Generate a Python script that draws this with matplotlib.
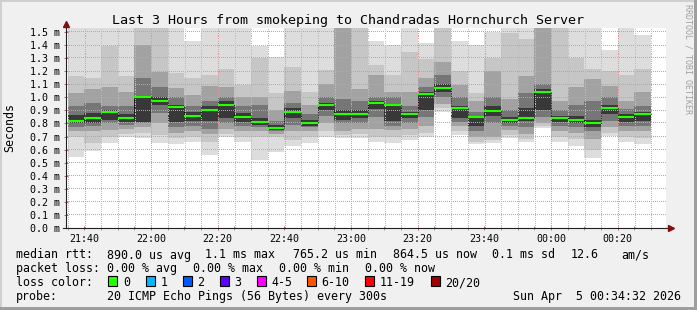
import numpy as np
import matplotlib.pyplot as plt
from matplotlib.patches import Rectangle
from matplotlib.lines import Line2D

W, H = 697, 310  # picture size in pixels

# time axis: 3 hours ending Sun Apr 5 00:34:32, 5 minute bins from 21:35
t_start = 21 * 60 + 34 + 32 / 60
first_bin = 21 * 60 + 35
n_bins = 35
bin_start = [first_bin + 5 * i for i in range(n_bins)]

# smoke bands in ms (outer band = lowest/highest ping, inner bands closer to median)
ping_min = [0.545, 0.59, 0.653, 0.70, 0.69, 0.65, 0.64, 0.655, 0.558, 0.70,
            0.655, 0.52, 0.578, 0.63, 0.648, 0.70, 0.685, 0.69, 0.66, 0.653,
            0.67, 0.70, 0.89, 0.71, 0.645, 0.65, 0.69, 0.66, 0.765, 0.66,
            0.63, 0.535, 0.705, 0.66, 0.645]
ping_max = [1.6, 1.6, 1.6, 1.6, 1.6, 1.6, 1.6, 1.43, 1.6, 1.6,
            1.6, 1.39, 1.31, 1.6, 1.6, 1.6, 1.6, 1.6, 1.43, 1.40,
            1.6, 1.415, 1.6, 1.43, 1.40, 1.50, 1.6, 1.6, 1.6, 1.6,
            1.6, 1.6, 1.36, 1.6, 1.48]
band1_lo = [0.70, 0.65, 0.70, 0.72, 0.73, 0.71, 0.69, 0.70, 0.66, 0.72,
            0.70, 0.70, 0.70, 0.67, 0.70, 0.74, 0.71, 0.72, 0.70, 0.70,
            0.71, 0.73, 0.92, 0.74, 0.66, 0.67, 0.71, 0.68, 0.78, 0.70,
            0.68, 0.60, 0.73, 0.70, 0.69]
band1_hi = [1.167, 1.15, 1.39, 1.16, 1.6, 1.6, 1.185, 1.146, 1.17, 1.22,
            1.095, 1.30, 1.03, 1.235, 1.04, 1.21, 1.6, 1.6, 1.25, 1.17,
            1.35, 1.29, 1.6, 1.20, 1.03, 1.30, 1.49, 1.45, 1.6, 1.6,
            1.30, 1.22, 1.20, 1.17, 1.22]
band2_lo = [0.74, 0.74, 0.75, 0.76, 0.77, 0.80, 0.73, 0.74, 0.72, 0.76,
            0.74, 0.74, 0.72, 0.74, 0.74, 0.80, 0.74, 0.76, 0.76, 0.75,
            0.76, 0.78, 0.95, 0.78, 0.70, 0.70, 0.75, 0.72, 0.80, 0.74,
            0.73, 0.68, 0.77, 0.74, 0.74]
band2_hi = [1.03, 1.06, 1.08, 1.04, 1.40, 1.197, 1.07, 1.02, 1.09, 1.08,
            1.0, 1.0, 0.90, 1.05, 0.94, 1.10, 1.6, 1.06, 1.17, 1.04,
            1.04, 1.15, 1.27, 1.095, 0.97, 1.20, 0.99, 1.16, 1.6, 0.97,
            1.08, 1.14, 1.09, 0.97, 1.04]
band3_lo = [0.77, 0.78, 0.80, 0.79, 0.80, 0.88, 0.77, 0.78, 0.76, 0.80,
            0.78, 0.77, 0.74, 0.79, 0.77, 0.86, 0.80, 0.80, 0.85, 0.78,
            0.80, 0.85, 1.0, 0.81, 0.74, 0.80, 0.78, 0.77, 0.85, 0.78,
            0.77, 0.74, 0.82, 0.78, 0.78]
band3_hi = [0.93, 0.955, 0.93, 0.93, 1.146, 1.08, 1.0, 0.93, 0.97, 1.0,
            0.93, 0.94, 0.82, 0.96, 0.87, 1.0, 0.99, 0.97, 1.0, 1.0,
            0.93, 1.08, 1.17, 1.0, 0.89, 1.0, 0.90, 1.03, 1.10, 0.90,
            0.94, 0.97, 1.0, 0.91, 0.93]
band4_lo = [0.80, 0.80, 0.83, 0.81, 0.81, 0.94, 0.81, 0.82, 0.82, 0.84,
            0.81, 0.79, 0.75, 0.84, 0.78, 0.90, 0.83, 0.84, 0.91, 0.82,
            0.84, 0.90, 1.04, 0.84, 0.78, 0.86, 0.80, 0.82, 0.90, 0.81,
            0.80, 0.77, 0.87, 0.81, 0.82]
band4_hi = [0.865, 0.88, 0.90, 0.87, 1.0, 1.0, 0.94, 0.89, 0.93, 0.97,
            0.88, 0.84, 0.79, 0.92, 0.83, 0.96, 0.90, 0.90, 0.975, 0.94,
            0.89, 1.04, 1.10, 0.93, 0.86, 0.93, 0.85, 0.92, 1.06, 0.86,
            0.86, 0.83, 0.94, 0.87, 0.89]
median = [0.821, 0.844, 0.89, 0.844, 1.0, 0.972, 0.923, 0.86, 0.905, 0.94,
          0.85, 0.813, 0.767, 0.89, 0.805, 0.94, 0.875, 0.874, 0.96, 0.94,
          0.875, 1.028, 1.074, 0.92, 0.85, 0.895, 0.828, 0.844, 1.044, 0.844,
          0.828, 0.80, 0.92, 0.85, 0.87]

bands = [(ping_min, ping_max), (band1_lo, band1_hi), (band2_lo, band2_hi),
         (band3_lo, band3_hi), (band4_lo, band4_hi)]
band_colors = ['#dddddd', '#c6c6c6', '#a2a2a2', '#767676', '#383838']

x_ticks = [1300, 1320, 1340, 1360, 1380, 1400, 1420, 1440, 1460]
x_labels = ['21:40', '22:00', '22:20', '22:40', '23:00', '23:20', '23:40', '00:00', '00:20']
y_ticks = [i / 10 for i in range(16)]
y_labels = ['%.1f m' % v for v in y_ticks]

loss_labels = ['0', '1', '2', '3', '4-5', '6-10', '11-19', '20/20']
loss_colors = ['#26ff00', '#00b8ff', '#0059ff', '#5e00ff', '#ff00ff', '#ff5500', '#ff0000', '#a10000']
loss_box_x = [108, 145.5, 182.5, 219.5, 256.5, 306.5, 365, 430.5]

MONO = 'DejaVu Sans Mono'
MGRID = '#eb9090'
GRID = '#bcbcbc'
Y_TOP = 200 / 130.67          # 200 px plot height, 0.1 ms per 13.07 px
X_PX = 180 / 600              # minutes per pixel
Y_PX = Y_TOP / 200            # ms per pixel


def fx(x):
    return x / W


def fy(y):
    return 1 - y / H


def snap_x(t):
    # centre of the pixel column that holds time t
    return t_start + (np.floor((t - t_start) / X_PX) + 0.5) * X_PX


def snap_y(v):
    return (np.floor(v / Y_PX) + 0.5) * Y_PX


fig = plt.figure(figsize=(W / 100, H / 100), dpi=100, facecolor='#f0f0f0')

# shaded frame like rrdtool
for (x0, y0, w, h, c) in [(0, 0, W, 2, '#cfcfcf'), (0, 0, 2, H, '#cfcfcf'),
                          (0, H - 3, W, 3, '#9e9e9e'), (W - 3, 0, 3, H, '#9e9e9e')]:
    fig.add_artist(Rectangle((fx(x0), fy(y0 + h)), w / W, h / H,
                             transform=fig.transFigure, color=c, lw=0))

ax = fig.add_axes([fx(66), fy(228), 600 / W, 200 / H])
ax.set_facecolor('white')
ax.set_xlim(t_start, t_start + 180)
ax.set_ylim(0, Y_TOP)

# smoke: nested bands from light (outer pings) to dark (near median)
for (lo, hi), c in zip(bands, band_colors):
    lo = np.array(lo)
    hi = np.array(hi)
    ax.bar(bin_start, hi - lo, bottom=lo, width=5, align='edge', color=c, lw=0, zorder=1)

# dotted grid (1 px on / 1 px off) over the smoke, dots on pixel centres
gx = t_start + (np.arange(0, 600, 2) + 0.5) * X_PX
gy = (np.arange(0, 200, 2) + 0.5) * Y_PX
for v in y_ticks[1:]:
    ax.plot(gx, np.full(len(gx), snap_y(v)), ls='none', marker=',', color=MGRID, zorder=2)
for t in range(first_bin, int(t_start) + 181, 5):
    c = MGRID if t in x_ticks else GRID
    ax.plot(np.full(len(gy), snap_x(t)), gy, ls='none', marker=',', color=c, zorder=2)

# median: dotted black connectors + green segments
edges = bin_start + [bin_start[-1] + 5]
ax.step(edges, median + [median[-1]], where='post', color='black', lw=0.6,
        ls=(0, (1, 1)), zorder=3)
ax.hlines(median, bin_start, [b + 5 for b in bin_start], color='#26ff00', lw=1.5, zorder=4)

ax.set_xticks(x_ticks)
ax.set_xticklabels(x_labels)
ax.set_xticks(list(range(first_bin, int(t_start) + 181, 5)), minor=True)
ax.set_yticks(y_ticks)
ax.set_yticklabels(y_labels)

ax.tick_params(which='major', direction='inout', length=3, width=0.72, color='#d06060',
               labelsize=7.2, pad=2.5)
ax.tick_params(which='minor', direction='inout', length=3, width=0.72, color='#a0a0a0')
for lab in ax.get_xticklabels() + ax.get_yticklabels():
    lab.set_family(MONO)
for s in ax.spines.values():
    s.set_visible(False)

# axes with arrows
fig.add_artist(Line2D([fx(66), fx(66)], [fy(228), fy(24)], color='#202020', lw=0.8))
fig.add_artist(Line2D([fx(63), fx(670)], [fy(228), fy(228)], color='#202020', lw=0.8))
fig.add_artist(Line2D([fx(66)], [fy(23.5)], marker='^', ms=4, color='#801010', lw=0))
fig.add_artist(Line2D([fx(670.5)], [fy(228)], marker='>', ms=4, color='#801010', lw=0))

# texts
fig.text(fx(348.5), fy(24), 'Last 3 Hours from smokeping to Chandradas Hornchurch Server',
         family=MONO, fontsize=9.6, ha='center', va='baseline')
fig.text(fx(10), fy(128), 'Seconds', family=MONO, fontsize=8.4, rotation=90,
         ha='center', va='center')
fig.text(fx(688), fy(4), 'RRDTOOL / TOBI OETIKER', family=MONO, fontsize=6,
         rotation=270, ha='center', va='top', color='#a0a0a0')

line1 = [(16, 'median rtt:'), (107, '890.0 us avg'), (205, '1.1 ms max'),
         (293, '765.2 us min'), (393, '864.5 us now'), (492, '0.1 ms sd'),
         (571, '12.6'), (621, 'am/s')]
for x, s in line1:
    fig.text(fx(x), fy(258.5), s, family=MONO, fontsize=8.4, va='baseline')

line2 = [(16, 'packet loss:'), (107, '0.00 % avg'), (193, '0.00 % max'),
         (279, '0.00 % min'), (365, '0.00 % now')]
for x, s in line2:
    fig.text(fx(x), fy(272.3), s, family=MONO, fontsize=8.4, va='baseline')

fig.text(fx(16), fy(286), 'loss color:', family=MONO, fontsize=8.4, va='baseline')
for x, lab, c in zip(loss_box_x, loss_labels, loss_colors):
    fig.add_artist(Rectangle((fx(x), fy(286)), 9 / W, 10 / H, transform=fig.transFigure,
                             facecolor=c, edgecolor='black', lw=0.8))
    fig.text(fx(x + 15), fy(286), lab, family=MONO, fontsize=8.4, va='baseline')

fig.text(fx(16), fy(299.8), 'probe:', family=MONO, fontsize=8.4, va='baseline')
fig.text(fx(107), fy(299.8), '20 ICMP Echo Pings (56 Bytes) every 300s',
         family=MONO, fontsize=8.4, va='baseline')
fig.text(fx(513), fy(299.8), 'Sun Apr  5 00:34:32 2026', family=MONO, fontsize=8.4,
         va='baseline')

fig.savefig('out.png', dpi=100, facecolor=fig.get_facecolor())
